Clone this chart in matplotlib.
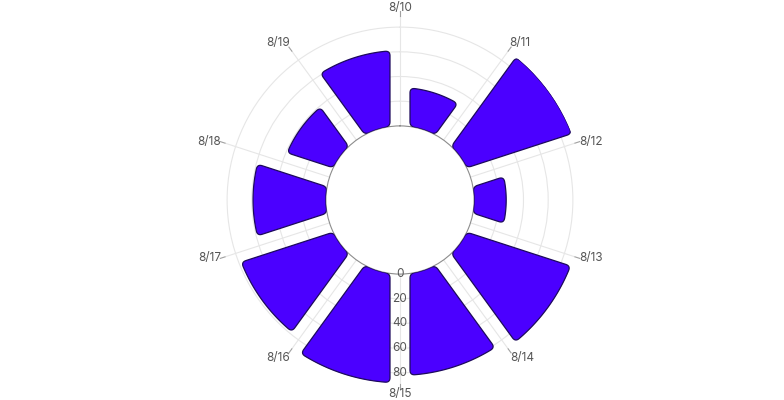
import numpy as np
import matplotlib.pyplot as plt

# data
dates = ['8/10', '8/11', '8/12', '8/13', '8/14', '8/15', '8/16', '8/17', '8/18', '8/19']
values = [31, 89, 26, 88, 82, 88, 78, 59, 39, 61]
r_ticks = [0, 20, 40, 60, 80]

plt.rcParams['font.family'] = ['Inter', 'DejaVu Sans']

rmax = max(values)
hole = 60      # radius of the empty centre, in value units
gap = 8.1      # half of the gap between bars, in value units
corner = 4     # corner rounding, in value units
bar_color = '#4b00ff'
text_color = '#555555'
grid_color = '#e6e6e6'


def trim(pts, length, from_end):
    # cut `length` off one end of a polyline
    if from_end:
        pts = pts[::-1]
    seg = np.hypot(*np.diff(pts, axis=0).T)
    cum = np.concatenate([[0], np.cumsum(seg)])
    k = np.searchsorted(cum, length)
    t = (length - cum[k - 1]) / seg[k - 1]
    p = pts[k - 1] + t * (pts[k] - pts[k - 1])
    rest = np.vstack([p, pts[k:]])
    if from_end:
        rest = rest[::-1]
    return rest


def bar_shape(t0, t1, v):
    # annular bar with parallel-sided gaps and rounded corners,
    # built in cartesian coords, returned as (theta, r)
    D = hole + v
    u0 = np.array([np.sin(t0), np.cos(t0)])
    n0 = np.array([np.cos(t0), -np.sin(t0)])
    u1 = np.array([np.sin(t1), np.cos(t1)])
    n1 = np.array([np.cos(t1), -np.sin(t1)])
    s = np.linspace(np.sqrt(hole**2 - gap**2), np.sqrt(D**2 - gap**2), 60)
    side0 = s[:, None] * u0 + gap * n0
    side1 = s[::-1, None] * u1 - gap * n1
    a_out = np.linspace(t0 + np.arcsin(gap / D), t1 - np.arcsin(gap / D), 150)
    outer = np.c_[D * np.sin(a_out), D * np.cos(a_out)]
    a_in = np.linspace(t1 - np.arcsin(gap / hole), t0 + np.arcsin(gap / hole), 80)
    inner = np.c_[hole * np.sin(a_in), hole * np.cos(a_in)]
    edges = [side0, outer, side1, inner]
    cut = [trim(trim(e, corner, False), corner, True) for e in edges]
    tt = np.linspace(0, 1, 14)[1:-1, None]
    pts = []
    for k in range(4):
        pts.append(cut[k])
        a, c, b = cut[k][-1], edges[k][-1], cut[(k + 1) % 4][0]
        pts.append((1 - tt)**2 * a + 2 * (1 - tt) * tt * c + tt**2 * b)
    xy = np.vstack(pts)
    theta = np.unwrap(np.arctan2(xy[:, 0], xy[:, 1]))
    return theta, np.hypot(xy[:, 0], xy[:, 1]) - hole


fig = plt.figure(figsize=(7.84, 4), dpi=100)
ax = fig.add_axes([0.2755, 0.04, 0.4694, 0.92], projection='polar')
ax.set_theta_zero_location('N')
ax.set_theta_direction(-1)
ax.set_ylim(0, rmax)
ax.set_rorigin(-hole)

step = 2 * np.pi / len(dates)
angles = np.arange(len(dates)) * step

# grid
ax.set_xticks(angles)
ax.set_xticklabels([])
ax.set_yticks(r_ticks[1:])
ax.set_yticklabels([])
ax.grid(color=grid_color, linewidth=0.8)
ax.spines['polar'].set_visible(False)
ax.spines['inner'].set_color('#8c8c8c')
ax.spines['inner'].set_linewidth(0.8)

# bars
for i, v in enumerate(values):
    th, r = bar_shape(angles[i], angles[i] + step, v)
    ax.fill(th, r, facecolor=bar_color, edgecolor='#1d0a5c', linewidth=0.9, zorder=3)

# angle axis ticks and labels
for th, lab in zip(angles, dates):
    ax.plot([th, th], [rmax, rmax + 4], color='#a0a0a0', linewidth=0.8, clip_on=False)
    sx, cy = np.sin(th), np.cos(th)
    ha = 'left' if sx > 0.1 else ('right' if sx < -0.1 else 'center')
    if cy > 0.5:
        va, off = 'bottom', 2
    elif cy < -0.5:
        va, off = 'top', 3.2
    else:
        va, off = 'center', 3.5
    ax.text(th, rmax + off, lab, ha=ha, va=va, fontsize=8.5, color=text_color)

# radius axis labels along the bottom
for v in r_ticks:
    ax.text(np.pi, v, str(v), ha='center', va='center', fontsize=8.5,
            color=text_color, zorder=4)

fig.savefig('out.png', dpi=100)
